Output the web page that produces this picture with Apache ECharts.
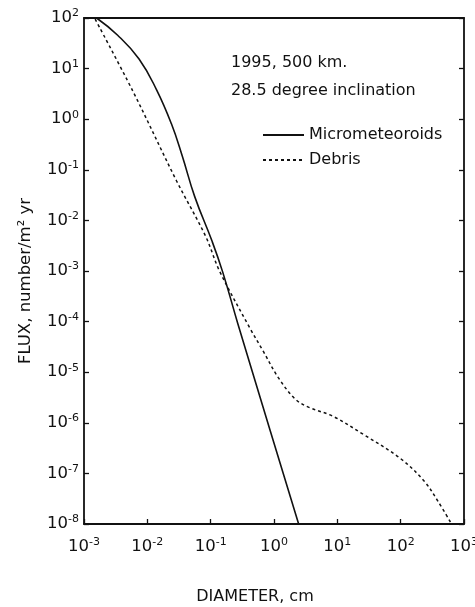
<!DOCTYPE html>
<html>
<head>
<meta charset="utf-8">
<script src="https://cdn.jsdelivr.net/npm/echarts@6/dist/echarts.min.js"></script>
<style>
  html, body { margin: 0; padding: 0; background: #fff; }
  #chart { width: 475px; height: 607px; }
</style>
</head>
<body>
<div id="chart"></div>
<script>
// Micrometeoroids (solid line): diameter in cm, flux in number/m^2 yr
const microDiameter = [0.00158, 0.0034, 0.0074, 0.0140, 0.024, 0.0355, 0.056, 0.105, 0.155, 0.27, 0.66, 2.45];
const microFlux     = [100, 45.7, 15.5, 3.8, 0.81, 0.19, 0.0295, 0.0039, 0.00095, 8.9e-5, 2.2e-6, 1e-8];

// Debris (dotted line)
const debrisDiameter = [0.0015, 0.0059, 0.029, 0.083, 0.138, 0.417, 0.676, 1.17, 2.19, 3.63, 8.5, 25.7, 97.7, 234, 389, 617];
const debrisFlux     = [95, 3.6, 0.060, 0.0049, 0.001, 7.4e-5, 2.6e-5, 7.8e-6, 2.9e-6, 2.0e-6, 1.35e-6, 5.9e-7, 2.0e-7, 7.1e-8, 2.8e-8, 1.07e-8];

const seriesNames = ['Micrometeoroids', 'Debris'];
const titleLines = ['1995, 500 km.', '28.5 degree inclination'];
const xAxisName = 'DIAMETER, cm';
const yAxisName = 'FLUX, number/m\u00b2 yr';
const xMin = 0.001, xMax = 1000;
const yMin = 1e-8, yMax = 100;

const FONT = 'DejaVu Sans';
const INK = '#111';

function pairs(xs, ys) { return xs.map((x, i) => [x, ys[i]]); }
function powLabel(v) {
  const e = Math.round(Math.log10(v));
  return '{b|10}{s|' + (e < 0 ? '-' + (-e) : e) + '}';
}
const richPow = {
  b: { fontFamily: FONT, fontSize: 16.5, color: INK },
  s: { fontFamily: FONT, fontSize: 11, color: INK, padding: [0, 0, 9, 0] }
};

const chart = echarts.init(document.getElementById('chart'), null, { renderer: 'canvas' });
chart.setOption({
  backgroundColor: '#fff',
  animation: false,
  grid: { left: 84, right: 11, top: 18, bottom: 83, containLabel: false, outerBoundsMode: 'none' },
  title: [
    { text: titleLines[0], left: 226, top: 50, textStyle: { fontFamily: FONT, fontSize: 16, fontWeight: 'normal', color: INK } },
    { text: titleLines[1], left: 226, top: 78, textStyle: { fontFamily: FONT, fontSize: 16, fontWeight: 'normal', color: INK } }
  ],
  legend: {
    data: seriesNames,
    orient: 'vertical',
    left: 257, top: 122,
    itemWidth: 41, itemHeight: 14, itemGap: 9,
    itemStyle: { opacity: 0 },
    textStyle: { fontFamily: FONT, fontSize: 16, color: INK, lineHeight: 16 }
  },
  xAxis: [
    {
      type: 'log', logBase: 10, min: xMin, max: xMax, interval: 1,
      name: xAxisName, nameLocation: 'middle', nameGap: 65,
      nameTextStyle: { fontFamily: FONT, fontSize: 16, color: INK, padding: [0, 38, 0, 0] },
      axisLine: { lineStyle: { color: INK, width: 1.8 } },
      axisTick: { inside: true, length: 5, lineStyle: { color: INK, width: 1.3 } },
      axisLabel: { margin: 13, formatter: powLabel, rich: richPow },
      splitLine: { show: false }, minorTick: { show: false }
    },
    {
      type: 'log', logBase: 10, min: xMin, max: xMax, position: 'top',
      axisLine: { lineStyle: { color: INK, width: 1.8 } },
      axisTick: { show: false }, axisLabel: { show: false }, splitLine: { show: false }
    }
  ],
  yAxis: [
    {
      type: 'log', logBase: 10, min: yMin, max: yMax, interval: 1,
      name: yAxisName, nameLocation: 'middle', nameGap: 50, nameRotate: 90,
      nameTextStyle: { fontFamily: FONT, fontSize: 16.5, color: INK, padding: [0, 20, 0, 0] },
      axisLine: { lineStyle: { color: INK, width: 1.8 } },
      axisTick: { inside: true, length: 5, lineStyle: { color: INK, width: 1.3 } },
      axisLabel: { margin: 5, formatter: powLabel, rich: richPow },
      splitLine: { show: false }, minorTick: { show: false }
    },
    {
      type: 'log', logBase: 10, min: yMin, max: yMax, interval: 1, position: 'right',
      axisLine: { lineStyle: { color: INK, width: 1.8 } },
      axisTick: { inside: true, length: 5, lineStyle: { color: INK, width: 1.3 } },
      axisLabel: { show: false }, splitLine: { show: false }
    }
  ],
  series: [
    {
      name: seriesNames[0], type: 'line', data: pairs(microDiameter, microFlux),
      smooth: 0.45, symbol: 'none', showSymbol: false,
      lineStyle: { color: INK, width: 1.6, type: 'solid' },
      itemStyle: { color: INK }
    },
    {
      name: seriesNames[1], type: 'line', data: pairs(debrisDiameter, debrisFlux),
      smooth: 0.35, symbol: 'none', showSymbol: false,
      lineStyle: { color: INK, width: 1.5, type: [3, 3] },
      itemStyle: { color: INK }
    }
  ]
});
</script>
</body>
</html>
